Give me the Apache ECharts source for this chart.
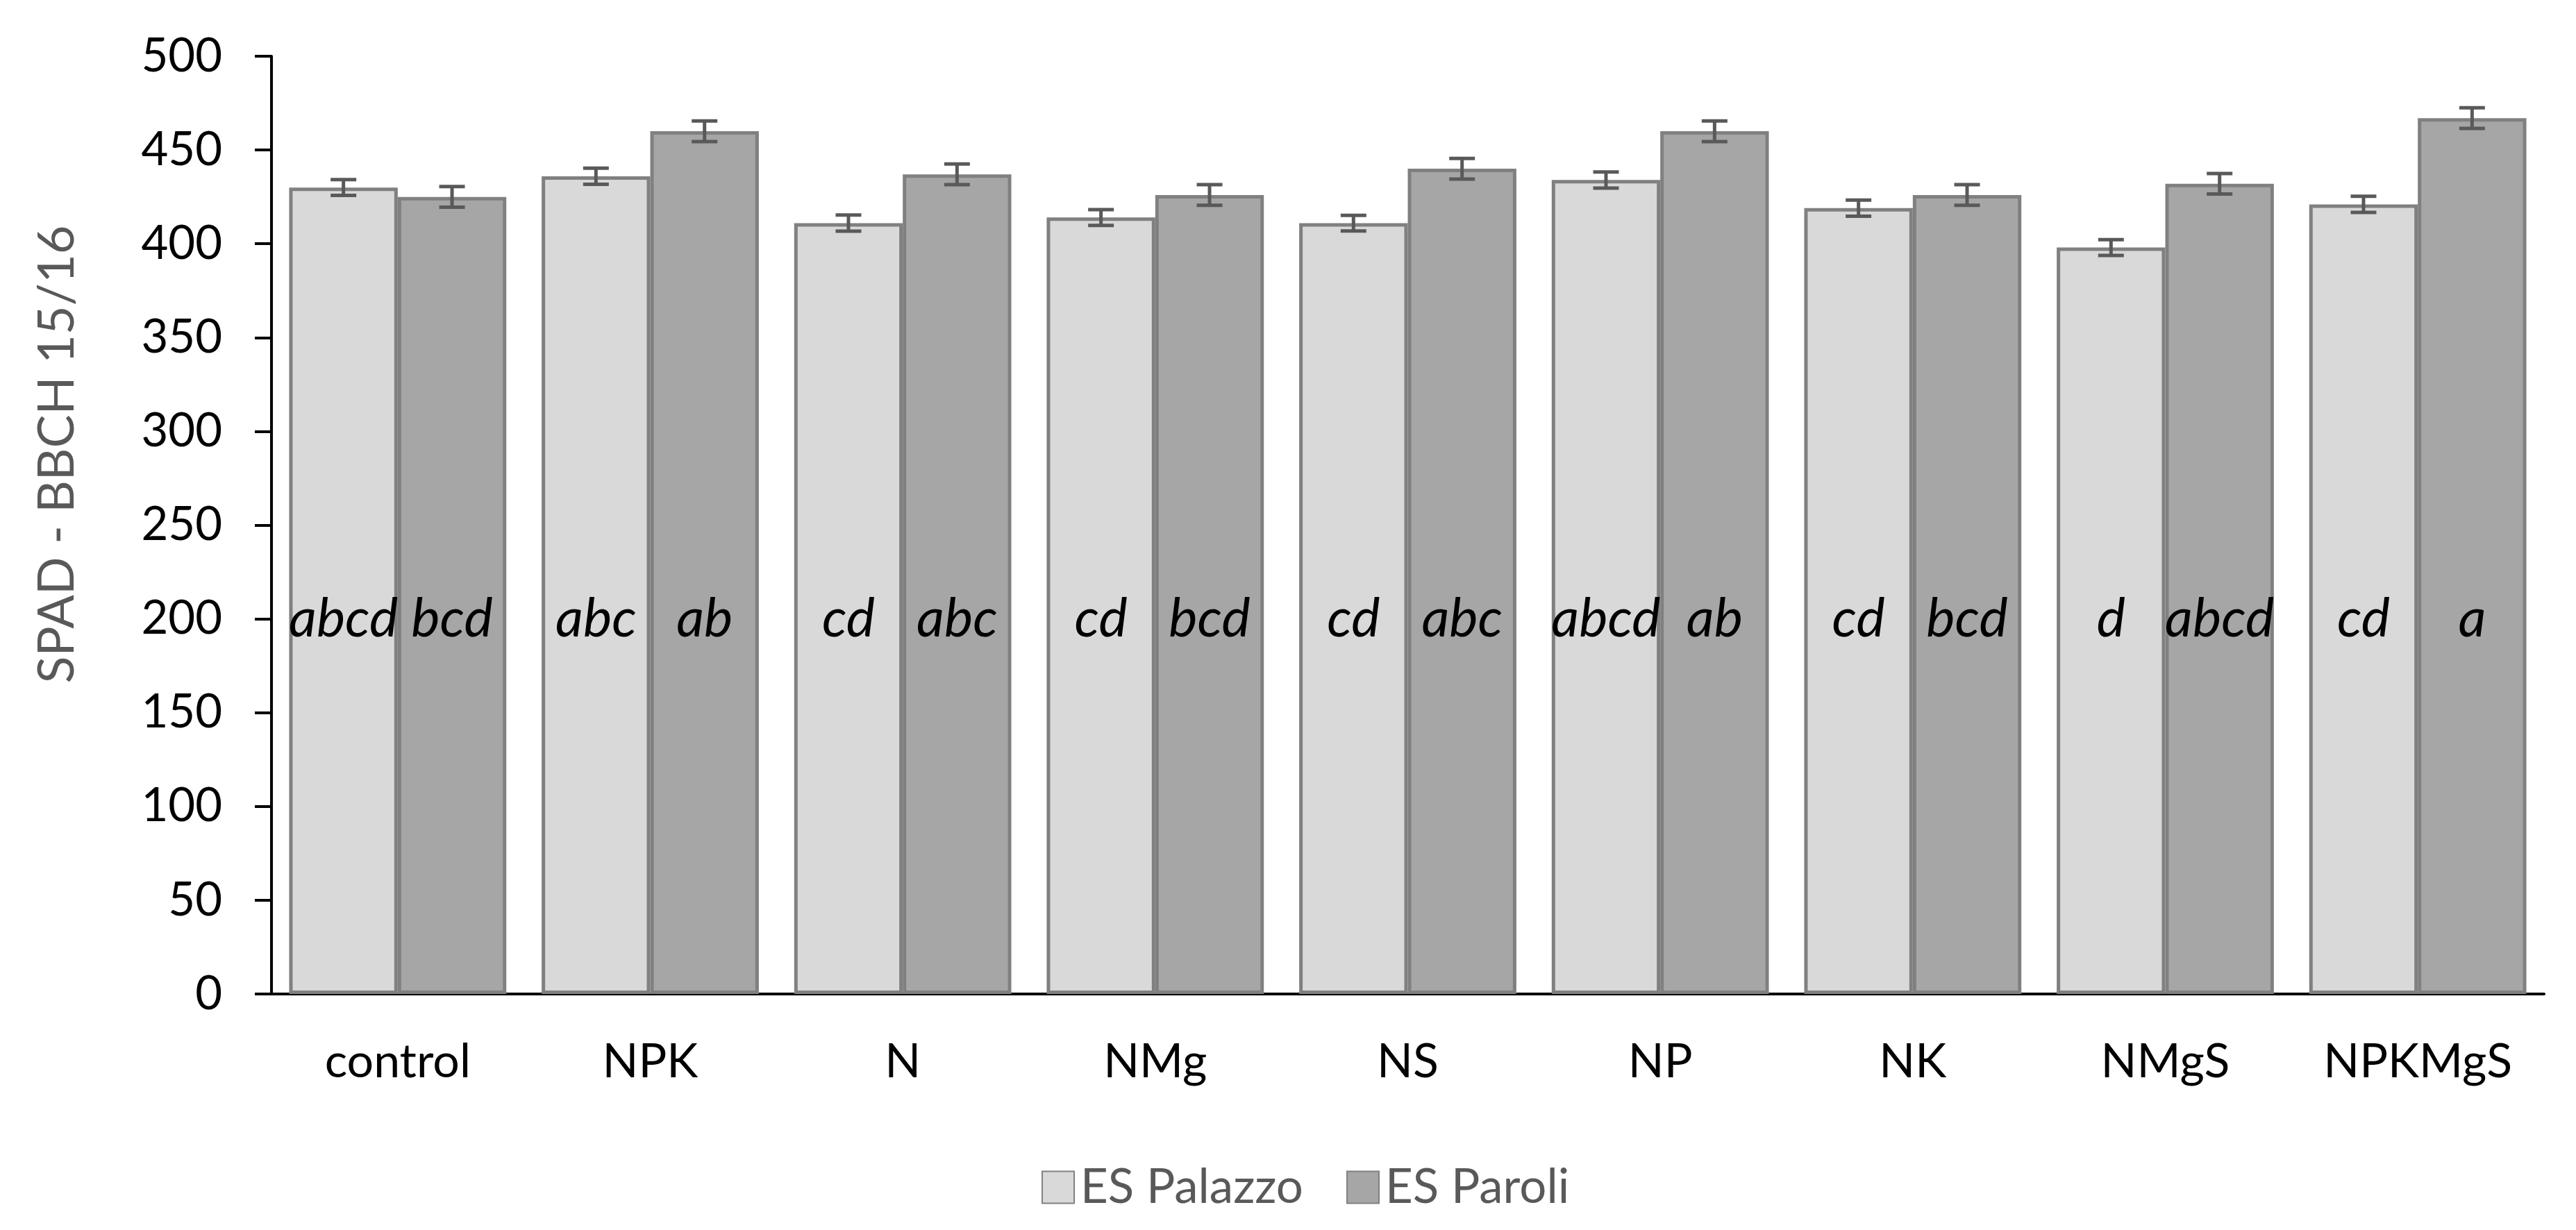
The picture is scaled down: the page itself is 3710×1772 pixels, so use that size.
<!DOCTYPE html>
<html>
<head>
<meta charset="utf-8">
<script src="https://cdn.jsdelivr.net/npm/echarts@6/dist/echarts.min.js"></script>
<style>
html,body{margin:0;padding:0;background:#fff;}
#chart{width:3710px;height:1772px;}
</style>
</head>
<body>
<div id="chart"></div>
<script>
// ---- data ----
var categories = ['control', 'NPK', 'N', 'NMg', 'NS', 'NP', 'NK', 'NMgS', 'NPKMgS'];
var seriesNames = ['ES Palazzo', 'ES Paroli'];
var palazzo = [430, 436, 411, 414, 411, 434, 419, 398, 421];
var paroli = [425, 460, 437, 426, 440, 460, 426, 432, 467];
var palazzoErr = [4.2, 4.3, 4.3, 4.2, 4.2, 4.3, 4.3, 4.2, 4.3];
var paroliErr = [5.5, 5.5, 5.5, 5.5, 5.5, 5.5, 5.5, 5.5, 5.5];
var palazzoLetters = ['abcd', 'abc', 'cd', 'cd', 'cd', 'abcd', 'cd', 'd', 'cd'];
var paroliLetters = ['bcd', 'ab', 'abc', 'bcd', 'abc', 'ab', 'bcd', 'abcd', 'a'];
var letterLevel = 200;
var yTicks = [0, 50, 100, 150, 200, 250, 300, 350, 400, 450, 500];

// ---- style ----
var FONT = 'Lato';
var catGapRatio = 0.14;
var colors = ['#d9d9d9', '#a6a6a6'];

function barOffset(api, sIdx) {
  var band = api.size([1, 0])[0];
  var barW = band * (1 - catGapRatio) / 2;
  return (sIdx === 0 ? -1 : 1) * barW / 2;
}

function errData(vals, errs) {
  return vals.map(function (v, i) { return [i, v, errs[i]]; });
}
function letterData(letters) {
  return letters.map(function (t, i) { return [i, letterLevel, t]; });
}

function errRender(sIdx) {
  return function (params, api) {
    var i = api.value(0), v = api.value(1), e = api.value(2);
    var hi = api.coord([i, v + e]);
    var lo = api.coord([i, v - e]);
    var x = hi[0] + barOffset(api, sIdx);
    var cap = 18.5;
    var st = { stroke: '#595959', lineWidth: 5 };
    return {
      type: 'group',
      children: [
        { type: 'line', shape: { x1: x, y1: hi[1], x2: x, y2: lo[1] }, style: st },
        { type: 'line', shape: { x1: x - cap, y1: hi[1], x2: x + cap, y2: hi[1] }, style: st },
        { type: 'line', shape: { x1: x - cap, y1: lo[1], x2: x + cap, y2: lo[1] }, style: st }
      ]
    };
  };
}

function letterRender(sIdx) {
  return function (params, api) {
    var i = api.value(0), v = api.value(1);
    var p = api.coord([i, v]);
    var txt = (sIdx === 0 ? palazzoLetters : paroliLetters)[i];
    return {
      type: 'text',
      x: p[0] + barOffset(api, sIdx),
      y: p[1],
      style: {
        text: txt,
        fill: '#000',
        font: 'italic 78px ' + FONT,
        align: 'center',
        verticalAlign: 'middle'
      }
    };
  };
}

var chart = echarts.init(document.getElementById('chart'));
chart.setOption({
  animation: false,
  backgroundColor: '#ffffff',
  grid: { left: 391, right: 46, top: 81, bottom: 340, containLabel: false },
  legend: {
    data: seriesNames,
    left: 1495,
    top: 1671,
    icon: 'rect',
    itemWidth: 46,
    itemHeight: 46,
    itemGap: 62,
    textStyle: { fontFamily: FONT, fontSize: 69, color: '#595959', padding: [0, 0, 0, 4] }
  },
  xAxis: {
    type: 'category',
    data: categories,
    axisLine: { lineStyle: { color: '#000', width: 4 } },
    axisTick: { show: false },
    axisLabel: { fontFamily: FONT, fontSize: 68, color: '#000', margin: 64 },
    splitLine: { show: false }
  },
  yAxis: {
    type: 'value',
    min: yTicks[0],
    max: yTicks[yTicks.length - 1],
    interval: yTicks[1] - yTicks[0],
    name: 'SPAD - BBCH 15/16',
    nameLocation: 'middle',
    nameGap: 272,
    nameRotate: 90,
    nameTextStyle: { fontFamily: FONT, fontSize: 72, color: '#595959', padding: [0, 0, 0, 204] },
    axisLine: { show: true, lineStyle: { color: '#000', width: 4 } },
    axisTick: { show: true, length: 24, lineStyle: { color: '#000', width: 4 } },
    axisLabel: { fontFamily: FONT, fontSize: 67, color: '#000', margin: 71 },
    splitLine: { show: false }
  },
  series: [
    {
      name: seriesNames[0], type: 'bar', data: palazzo,
      barGap: '0%', barCategoryGap: (catGapRatio * 100) + '%',
      itemStyle: { color: colors[0], borderColor: '#808080', borderWidth: 5 }
    },
    {
      name: seriesNames[1], type: 'bar', data: paroli,
      barGap: '0%', barCategoryGap: (catGapRatio * 100) + '%',
      itemStyle: { color: colors[1], borderColor: '#808080', borderWidth: 5 }
    },
    { type: 'custom', renderItem: errRender(0), data: errData(palazzo, palazzoErr), z: 5 },
    { type: 'custom', renderItem: errRender(1), data: errData(paroli, paroliErr), z: 5 },
    { type: 'custom', renderItem: letterRender(0), data: letterData(palazzoLetters), z: 6 },
    { type: 'custom', renderItem: letterRender(1), data: letterData(paroliLetters), z: 6 }
  ]
});
</script>
</body>
</html>
